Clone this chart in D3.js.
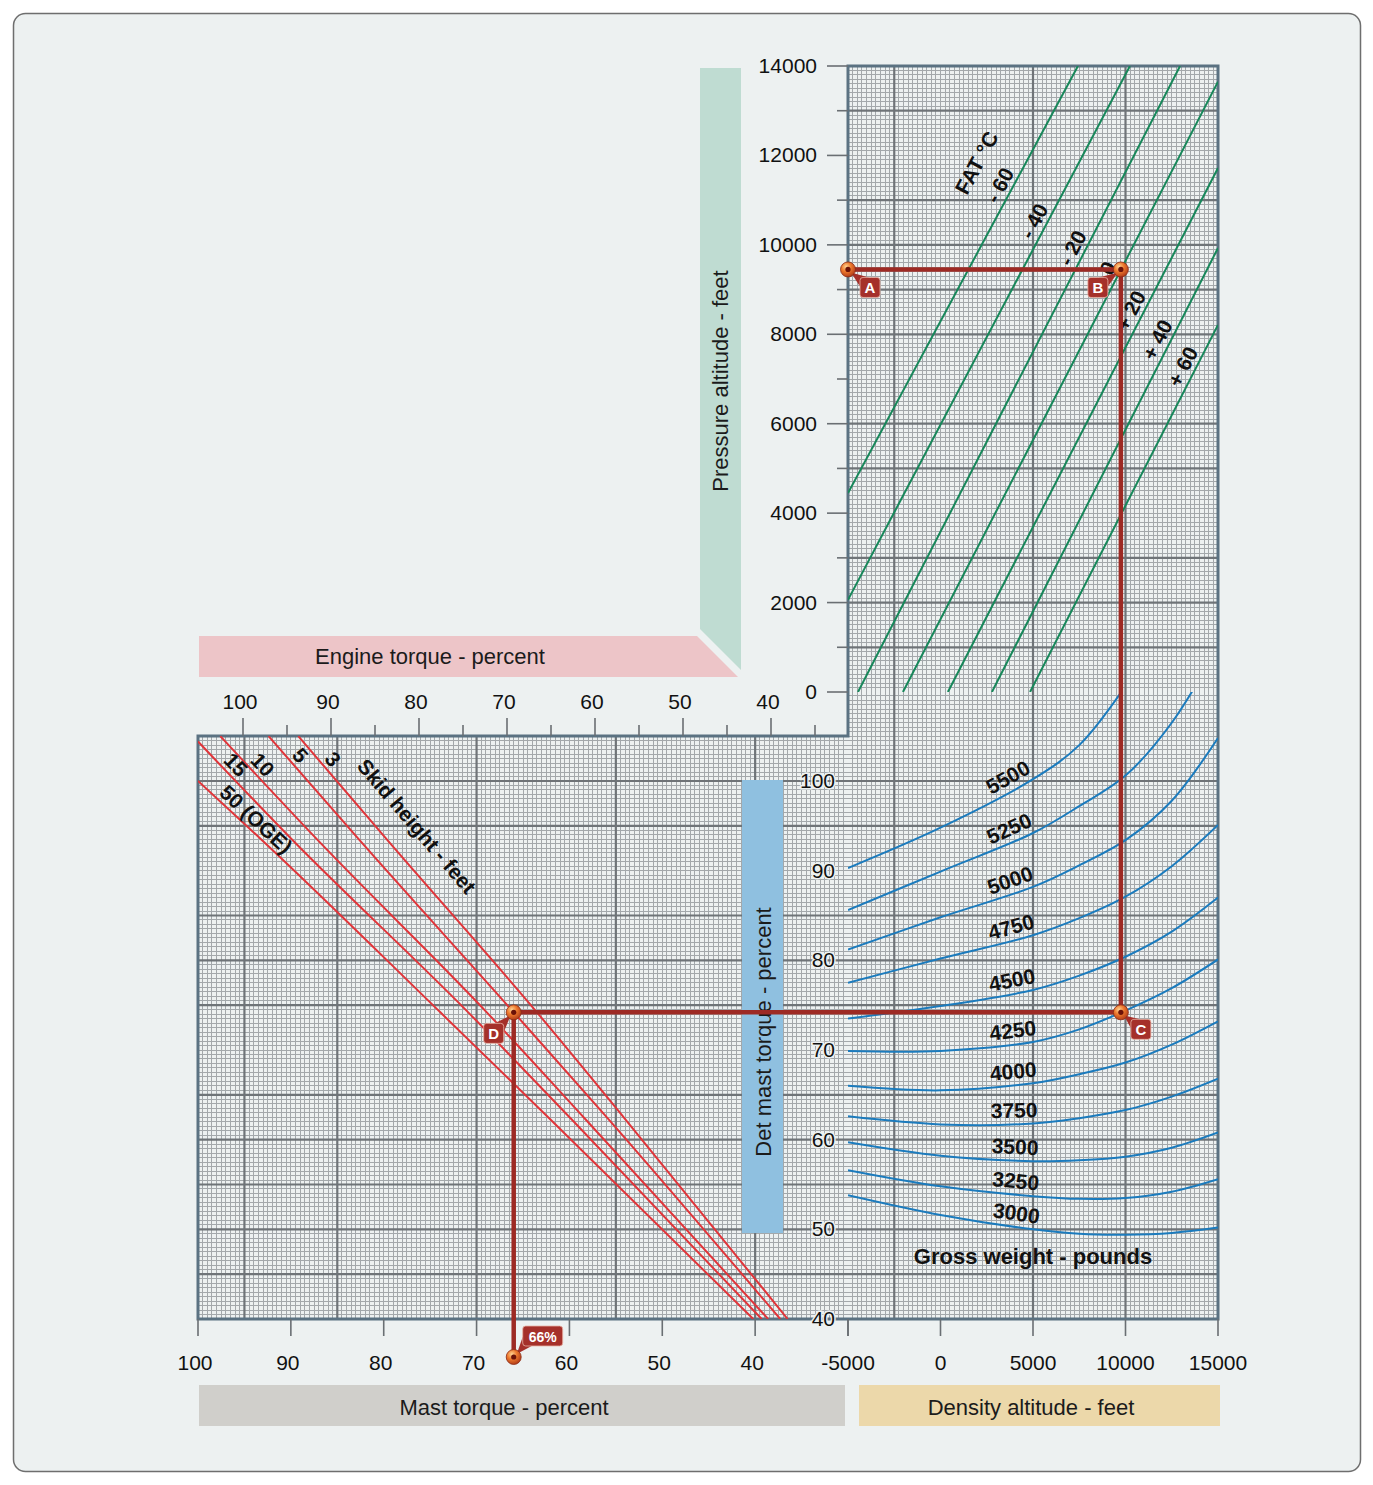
<!DOCTYPE html>
<html>
<head>
<meta charset="utf-8">
<title>Hover power required</title>
<script src="https://cdn.jsdelivr.net/npm/d3@7"></script>
<style>
    body { margin: 0; background: #ffffff; }
    text { font-family: "Liberation Sans", Arial, Helvetica, sans-serif; }
    .tick-label { font-size: 21px; fill: #111; }
    .band-label { font-size: 22px; fill: #1b1b1b; }
    .bold-label { font-size: 21px; font-weight: bold; fill: #111; }
</style>
</head>
<body>
<div id="chart"></div>
<script>
// ---- axis ticks ----
const pressureTicks = [0, 2000, 4000, 6000, 8000, 10000, 12000, 14000];
const pressureMinor = [1000, 3000, 5000, 7000, 9000, 11000, 13000];
const engineTicks = [100, 90, 80, 70, 60, 50, 40];
const engineMinor = [95, 85, 75, 65, 55, 45, 35];
const mastTicks = [100, 90, 80, 70, 60, 50, 40];
const detMastTicks = [100, 90, 80, 70, 60, 50, 40];
const densityTicks = [-5000, 0, 5000, 10000, 15000];

// heavier grid lines (they are not evenly spread on the original sheet)
const mastMajor = [95, 85, 70, 55, 40];
const densityMajor = [-2500, 5000, 10000];
const detMastMajor = [100, 95, 85, 80, 75, 65, 60, 55, 50, 45];
const pressureMajor = [13000, 11000, 10000, 9000, 8000, 6000, 5000, 3000, 2000, 1000];

// ---- FAT lines, ends given as [density altitude, pressure altitude] ----
const fatTemps = [-60, -40, -20, 0, 20, 40, 60];
const fatLowEnd = [[-5000, 4450], [-5000, 2060], [-4460, 0], [-2030, 0], [400, 0], [2780, 0], [4840, 0]];
const fatHighEnd = [[7430, 14000], [10240, 14000], [12950, 14000], [15000, 13650], [15000, 11720], [15000, 9930], [15000, 8210]];
const fatLabelAlt = [11300, 10500, 9900, 9450, 8500, 7850, 7250];

// ---- gross weight curves: det mast torque read at each density altitude ----
const grossWeights = [5500, 5250, 5000, 4750, 4500, 4250, 4000, 3750, 3500, 3250, 3000];
const gwDensity = [-5000, 0, 5000, 7500, 10000, 12500, 15000];
const gwTorque = [
    [90.3, 94.8, 100.2, 104.0, 110.6, null, null],
    [85.6, 89.9, 94.2, 97.2, 100.6, 106.5, 115.0],
    [81.2, 84.8, 88.2, 90.6, 93.4, 97.8, 104.8],
    [77.5, 80.2, 82.8, 84.7, 87.1, 90.5, 95.1],
    [73.5, 74.9, 76.7, 78.3, 80.4, 83.2, 87.0],
    [69.9, 69.9, 70.9, 72.3, 74.4, 76.9, 80.1],
    [66.0, 65.5, 66.3, 67.3, 68.6, 70.6, 73.2],
    [62.6, 61.7, 61.8, 62.4, 63.3, 64.8, 66.8],
    [59.7, 58.2, 57.6, 57.7, 58.1, 59.1, 60.8],
    [56.6, 54.8, 53.7, 53.4, 53.5, 54.2, 55.6],
    [53.8, 51.6, 50.0, 49.5, 49.4, 49.6, 50.2]
];
const gwLabelDensity = 4000;

// ---- skid height lines: [mast torque, det mast torque], top to bottom ----
const skidHeights = ["3", "5", "10", "15", "50 (OGE)"];
const skidLines = [
    [[89.2, 105], [79.6, 93.4], [63.5, 74.2], [54.0, 62.3], [36.5, 40]],
    [[92.4, 105], [82.6, 93.4], [66.0, 74.2], [55.8, 62.3], [37.3, 40]],
    [[97.6, 105], [87.1, 93.4], [68.9, 74.2], [58.3, 62.3], [38.6, 40]],
    [[100, 104.4], [89.8, 93.4], [70.9, 74.2], [59.8, 62.3], [39.3, 40]],
    [[100, 100.0], [93.1, 93.4], [73.9, 74.2], [62.1, 62.3], [40.2, 40]]
];
const skidLabelTorque = [102.3, 102.7, 101.6, 101.6, 95.4];

// ---- worked example ----
const examplePressureAlt = 9450;
const exampleDensityAlt = 9750;
const exampleDetTorque = 74.2;
const exampleMastTorque = 66;


class HoverChart {
    constructor(_parentElement) {
        this.parentElement = _parentElement;
        this.initVis();
    }

    initVis() {
        let vis = this;

        vis.width = 1373;
        vis.height = 1485;

        // corners of the L shaped grid
        vis.left = 198;
        vis.mid = 848;
        vis.right = 1218;
        vis.top = 66;
        vis.step = 736;
        vis.bottom = 1319;

        vis.svg = d3.select("#" + vis.parentElement).append("svg")
            .attr("width", vis.width)
            .attr("height", vis.height);

        // scales
        vis.mast = d3.scaleLinear().domain([100, 30]).range([vis.left, vis.mid]);
        vis.engine = d3.scaleLinear().domain([100, 40]).range([243, 771]);
        vis.density = d3.scaleLinear().domain([-5000, 15000]).range([vis.mid, vis.right]);
        vis.pressure = d3.scaleLinear().domain([0, 14000]).range([692, vis.top]);
        vis.det = d3.scaleLinear().domain([40, 100]).range([vis.bottom, 781]);

        let defs = vis.svg.append("defs");
        let grad = defs.append("radialGradient").attr("id", "ball")
            .attr("cx", "38%").attr("cy", "32%").attr("r", "70%");
        grad.append("stop").attr("offset", "0%").attr("stop-color", "#ffd494");
        grad.append("stop").attr("offset", "45%").attr("stop-color", "#ee7a2e");
        grad.append("stop").attr("offset", "100%").attr("stop-color", "#b23c18");

        defs.append("clipPath").attr("id", "clip-upper").append("rect")
            .attr("x", vis.mid).attr("y", vis.top)
            .attr("width", vis.right - vis.mid).attr("height", vis.pressure(0) - vis.top);
        defs.append("clipPath").attr("id", "clip-weight").append("rect")
            .attr("x", vis.mid).attr("y", vis.pressure(0))
            .attr("width", vis.right - vis.mid).attr("height", vis.bottom - vis.pressure(0));
        defs.append("clipPath").attr("id", "clip-lower").append("rect")
            .attr("x", vis.left).attr("y", vis.step)
            .attr("width", vis.right - vis.left).attr("height", vis.bottom - vis.step);

        // frame
        vis.svg.append("rect")
            .attr("x", 13.5).attr("y", 13.5)
            .attr("width", 1347).attr("height", 1458)
            .attr("rx", 12)
            .attr("fill", "#edf1f1")
            .attr("stroke", "#6e6e6e")
            .attr("stroke-width", 1.5);

        vis.drawBands();
        vis.drawGrid();
        vis.drawAxes();
        vis.drawCurves();
        vis.drawExample();
    }

    drawBands() {
        let vis = this;

        vis.svg.append("polygon")
            .attr("points", "700,68 741,68 741,670 700,629")
            .attr("fill", "#bfdcd2");
        vis.svg.append("polygon")
            .attr("points", "199,636 697,636 738,677 199,677")
            .attr("fill", "#edc5c8");
        vis.svg.append("rect")
            .attr("x", 199).attr("y", 1385).attr("width", 646).attr("height", 41)
            .attr("fill", "#d0cfcb");
        vis.svg.append("rect")
            .attr("x", 859).attr("y", 1385).attr("width", 361).attr("height", 41)
            .attr("fill", "#ecd8aa");

        vis.svg.append("text").attr("class", "band-label")
            .attr("x", 430).attr("y", 664).attr("text-anchor", "middle")
            .text("Engine torque - percent");
        vis.svg.append("text").attr("class", "band-label")
            .attr("transform", "translate(728,381) rotate(-90)").attr("text-anchor", "middle")
            .text("Pressure altitude - feet");
        vis.svg.append("text").attr("class", "band-label")
            .attr("x", 504).attr("y", 1415).attr("text-anchor", "middle")
            .text("Mast torque - percent");
        vis.svg.append("text").attr("class", "band-label")
            .attr("x", 1031).attr("y", 1415).attr("text-anchor", "middle")
            .text("Density altitude - feet");
    }

    drawGrid() {
        let vis = this;

        let grid = vis.svg.append("g").attr("class", "grid");
        let fine = grid.append("g")
            .attr("stroke", "#a3a8ab")
            .attr("stroke-width", 1)
            .attr("shape-rendering", "crispEdges");

        // verticals under the mast torque axis
        fine.selectAll(".mv").data(d3.range(99.5, 30, -0.5)).join("line")
            .attr("class", "mv")
            .attr("x1", d => vis.mast(d)).attr("x2", d => vis.mast(d))
            .attr("y1", vis.step).attr("y2", vis.bottom);
        // verticals under the density altitude axis, full height
        fine.selectAll(".dv").data(d3.range(-4750, 15000, 250)).join("line")
            .attr("class", "dv")
            .attr("x1", d => vis.density(d)).attr("x2", d => vis.density(d))
            .attr("y1", vis.top).attr("y2", vis.bottom);
        // horizontals on the det mast torque scale
        fine.selectAll(".th").data(d3.range(40.5, 110, 0.5)).join("line")
            .attr("class", "th")
            .attr("x1", d => d <= 105 ? vis.left : vis.mid).attr("x2", vis.right)
            .attr("y1", d => vis.det(d)).attr("y2", d => vis.det(d));
        // horizontals on the pressure altitude scale
        fine.selectAll(".ph").data(d3.range(100, 14000, 100)).join("line")
            .attr("class", "ph")
            .attr("x1", vis.mid).attr("x2", vis.right)
            .attr("y1", d => vis.pressure(d)).attr("y2", d => vis.pressure(d));

        let major = grid.append("g")
            .attr("stroke", "#6f7478")
            .attr("stroke-width", 2.2);

        major.selectAll(".mmv").data(mastMajor).join("line")
            .attr("x1", d => vis.mast(d)).attr("x2", d => vis.mast(d))
            .attr("y1", vis.step).attr("y2", vis.bottom);
        major.selectAll(".mdv").data(densityMajor).join("line")
            .attr("x1", d => vis.density(d)).attr("x2", d => vis.density(d))
            .attr("y1", vis.top).attr("y2", vis.bottom);
        major.selectAll(".mth").data(detMastMajor).join("line")
            .attr("x1", vis.left).attr("x2", vis.right)
            .attr("y1", d => vis.det(d)).attr("y2", d => vis.det(d));
        major.selectAll(".mph").data(pressureMajor).join("line")
            .attr("x1", vis.mid).attr("x2", vis.right)
            .attr("y1", d => vis.pressure(d)).attr("y2", d => vis.pressure(d));

        // det mast torque band sits on top of the grid
        vis.svg.append("rect")
            .attr("x", 742).attr("y", 780).attr("width", 41).attr("height", 453)
            .attr("fill", "#8fc0e0");
        vis.svg.append("text").attr("class", "band-label")
            .attr("transform", "translate(771,1032) rotate(-90)").attr("text-anchor", "middle")
            .text("Det mast torque - percent");

        // L shaped outline
        vis.svg.append("path")
            .attr("d", `M${vis.left},${vis.step} H${vis.mid} V${vis.top} H${vis.right} V${vis.bottom} H${vis.left} Z`)
            .attr("fill", "none")
            .attr("stroke", "#5b7282")
            .attr("stroke-width", 3);
    }

    drawAxes() {
        let vis = this;
        let axes = vis.svg.append("g").attr("class", "axes");
        let tickColor = "#6a6f73";

        // pressure altitude (left of upper grid)
        axes.selectAll(".pt").data(pressureTicks).join("line")
            .attr("x1", vis.mid - 21).attr("x2", vis.mid)
            .attr("y1", d => vis.pressure(d)).attr("y2", d => vis.pressure(d))
            .attr("stroke", tickColor).attr("stroke-width", 1.6);
        axes.selectAll(".pm").data(pressureMinor).join("line")
            .attr("x1", vis.mid - 11).attr("x2", vis.mid)
            .attr("y1", d => vis.pressure(d)).attr("y2", d => vis.pressure(d))
            .attr("stroke", tickColor).attr("stroke-width", 1.6);
        axes.selectAll(".pl").data(pressureTicks).join("text")
            .attr("class", "tick-label")
            .attr("x", 817).attr("y", d => vis.pressure(d) + 7)
            .attr("text-anchor", "end")
            .text(d => d);

        // engine torque (above lower grid)
        axes.selectAll(".et").data(engineTicks).join("line")
            .attr("x1", d => vis.engine(d)).attr("x2", d => vis.engine(d))
            .attr("y1", vis.step - 18).attr("y2", vis.step)
            .attr("stroke", tickColor).attr("stroke-width", 1.6);
        axes.selectAll(".em").data(engineMinor).join("line")
            .attr("x1", d => vis.engine(d)).attr("x2", d => vis.engine(d))
            .attr("y1", vis.step - 11).attr("y2", vis.step)
            .attr("stroke", tickColor).attr("stroke-width", 1.6);
        axes.selectAll(".el").data(engineTicks).join("text")
            .attr("class", "tick-label")
            .attr("x", d => vis.engine(d) - 3).attr("y", 709)
            .attr("text-anchor", "middle")
            .text(d => d);

        // mast torque (bottom left)
        axes.selectAll(".mt").data(mastTicks.concat([30])).join("line")
            .attr("x1", d => vis.mast(d)).attr("x2", d => vis.mast(d))
            .attr("y1", vis.bottom).attr("y2", vis.bottom + 17)
            .attr("stroke", tickColor).attr("stroke-width", 1.6);
        axes.selectAll(".ml").data(mastTicks).join("text")
            .attr("class", "tick-label")
            .attr("x", d => vis.mast(d) - 3).attr("y", 1370)
            .attr("text-anchor", "middle")
            .text(d => d);

        // density altitude (bottom right)
        axes.selectAll(".dt").data(densityTicks).join("line")
            .attr("x1", d => vis.density(d)).attr("x2", d => vis.density(d))
            .attr("y1", vis.bottom).attr("y2", vis.bottom + 17)
            .attr("stroke", tickColor).attr("stroke-width", 1.6);
        axes.selectAll(".dl").data(densityTicks).join("text")
            .attr("class", "tick-label")
            .attr("x", d => vis.density(d)).attr("y", 1370)
            .attr("text-anchor", "middle")
            .text(d => d);

        // det mast torque labels sit inside the grid
        axes.selectAll(".tl").data(detMastTicks).join("text")
            .attr("class", "tick-label")
            .attr("x", 835).attr("y", d => vis.det(d) + 7)
            .attr("text-anchor", "end")
            .attr("stroke", "#edf1f1").attr("stroke-width", 3)
            .attr("paint-order", "stroke")
            .text(d => d);
    }

    drawCurves() {
        let vis = this;

        // FAT lines
        let fat = vis.svg.append("g").attr("clip-path", "url(#clip-upper)");
        fat.selectAll("line").data(fatTemps).join("line")
            .attr("x1", (d, i) => vis.density(fatLowEnd[i][0]))
            .attr("y1", (d, i) => vis.pressure(fatLowEnd[i][1]))
            .attr("x2", (d, i) => vis.density(fatHighEnd[i][0]))
            .attr("y2", (d, i) => vis.pressure(fatHighEnd[i][1]))
            .attr("stroke", "#17875a")
            .attr("stroke-width", 2);

        // point on a FAT line at a given pressure altitude
        let fatPoint = (i, alt) => {
            let t = (alt - fatLowEnd[i][1]) / (fatHighEnd[i][1] - fatLowEnd[i][1]);
            let da = fatLowEnd[i][0] + t * (fatHighEnd[i][0] - fatLowEnd[i][0]);
            return [vis.density(da), vis.pressure(alt)];
        };
        let fatAngle = i => {
            let dx = vis.density(fatHighEnd[i][0]) - vis.density(fatLowEnd[i][0]);
            let dy = vis.pressure(fatHighEnd[i][1]) - vis.pressure(fatLowEnd[i][1]);
            return Math.atan2(dy, dx) * 180 / Math.PI;
        };
        let fmtTemp = t => t < 0 ? "- " + (-t) : (t > 0 ? "+ " + t : "0");

        let fatLabels = vis.svg.append("g");
        fatTemps.forEach((t, i) => {
            let p = fatPoint(i, fatLabelAlt[i]);
            fatLabels.append("text")
                .attr("class", "bold-label")
                .attr("transform", `translate(${p[0]},${p[1]}) rotate(${fatAngle(i)})`)
                .attr("x", -5).attr("y", -5)
                .attr("text-anchor", "middle")
                .text(fmtTemp(t));
        });
        let fp = fatPoint(0, 11830);
        fatLabels.append("text")
            .attr("class", "bold-label")
            .attr("transform", `translate(${fp[0]},${fp[1]}) rotate(${fatAngle(0)})`)
            .attr("x", -23).attr("y", -36)
            .attr("text-anchor", "middle")
            .text("FAT °C");

        // gross weight curves
        let gwLine = d3.line()
            .x(d => vis.density(d[0]))
            .y(d => vis.det(d[1]))
            .curve(d3.curveCatmullRom.alpha(0.5));

        let weights = vis.svg.append("g").attr("clip-path", "url(#clip-weight)");
        weights.selectAll("path").data(gwTorque).join("path")
            .attr("d", row => gwLine(row.map((v, j) => [gwDensity[j], v]).filter(d => d[1] !== null)))
            .attr("fill", "none")
            .attr("stroke", "#1b7bbd")
            .attr("stroke-width", 2);

        // interpolate a curve's torque at a density altitude
        let gwAt = (row, da) => {
            let j = d3.bisectRight(gwDensity, da) - 1;
            let t = (da - gwDensity[j]) / (gwDensity[j + 1] - gwDensity[j]);
            return row[j] + t * (row[j + 1] - row[j]);
        };

        let gwLabels = vis.svg.append("g");
        grossWeights.forEach((w, i) => {
            let row = gwTorque[i];
            let x = vis.density(gwLabelDensity);
            let y = vis.det(gwAt(row, gwLabelDensity));
            let xa = vis.density(gwLabelDensity - 1500), xb = vis.density(gwLabelDensity + 1500);
            let ya = vis.det(gwAt(row, gwLabelDensity - 1500)), yb = vis.det(gwAt(row, gwLabelDensity + 1500));
            let ang = Math.atan2(yb - ya, xb - xa) * 180 / Math.PI;
            gwLabels.append("text")
                .attr("class", "bold-label")
                .attr("transform", `translate(${x},${y}) rotate(${ang})`)
                .attr("x", 0).attr("y", -6)
                .attr("text-anchor", "middle")
                .text(w);
        });

        vis.svg.append("text")
            .attr("class", "bold-label")
            .style("font-size", "22px")
            .attr("x", 1033).attr("y", 1264)
            .attr("text-anchor", "middle")
            .text("Gross weight - pounds");

        // skid height lines
        let skidLine = d3.line()
            .x(d => vis.mast(d[0]))
            .y(d => vis.det(d[1]))
            .curve(d3.curveMonotoneY);

        let skid = vis.svg.append("g").attr("clip-path", "url(#clip-lower)");
        skid.selectAll("path").data(skidLines).join("path")
            .attr("d", skidLine)
            .attr("fill", "none")
            .attr("stroke", "#e0353a")
            .attr("stroke-width", 2);

        // x on a skid line at a given det mast torque
        let skidAt = (pts, v) => {
            for (let j = 0; j < pts.length - 1; j++) {
                if (v <= pts[j][1] && v >= pts[j + 1][1]) {
                    let t = (v - pts[j][1]) / (pts[j + 1][1] - pts[j][1]);
                    return pts[j][0] + t * (pts[j + 1][0] - pts[j][0]);
                }
            }
            return pts[0][0];
        };
        let skidAngle = pts => {
            let dx = vis.mast(pts[1][0]) - vis.mast(pts[0][0]);
            let dy = vis.det(pts[1][1]) - vis.det(pts[0][1]);
            return Math.atan2(dy, dx) * 180 / Math.PI;
        };

        let skidLabels = vis.svg.append("g");
        skidHeights.forEach((h, i) => {
            let pts = skidLines[i];
            let v = skidLabelTorque[i];
            let x = vis.mast(skidAt(pts, v)), y = vis.det(v);
            skidLabels.append("text")
                .attr("class", "bold-label")
                .attr("transform", `translate(${x},${y}) rotate(${skidAngle(pts)})`)
                .attr("x", 8).attr("y", -4)
                .attr("text-anchor", "middle")
                .text(h);
        });
        let sv = 94.8;
        let sx = vis.mast(skidAt(skidLines[0], sv)), sy = vis.det(sv);
        skidLabels.append("text")
            .attr("class", "bold-label")
            .attr("transform", `translate(${sx},${sy}) rotate(${skidAngle(skidLines[0])})`)
            .attr("x", 25).attr("y", -24)
            .attr("text-anchor", "middle")
            .text("Skid height - feet");
    }

    drawExample() {
        let vis = this;

        let A = [vis.density(-5000), vis.pressure(examplePressureAlt)];
        let B = [vis.density(exampleDensityAlt), A[1]];
        let C = [B[0], vis.det(exampleDetTorque)];
        let D = [vis.mast(exampleMastTorque), C[1]];
        let E = [D[0], vis.bottom + 38];

        vis.svg.append("path")
            .attr("d", d3.line()([A, B, C, D, E]))
            .attr("fill", "none")
            .attr("stroke", "#9d2a24")
            .attr("stroke-width", 4.5)
            .attr("stroke-linejoin", "miter");

        vis.calloutGroup = vis.svg.append("g");
        vis.drawCallout(A, 22, 18, "A", 20);
        vis.drawCallout(B, -23, 18, "B", 20);
        vis.drawCallout(C, 20, 17, "C", 20);
        vis.drawCallout(D, -20, 21, "D", 20);
        vis.drawCallout(E, 29, -21, exampleMastTorque + "%", 40);

        let markers = vis.svg.append("g");
        [A, B, C, D, E].forEach(p => {
            markers.append("circle")
                .attr("cx", p[0]).attr("cy", p[1]).attr("r", 7.5)
                .attr("fill", "url(#ball)")
                .attr("stroke", "#8a2a14").attr("stroke-width", 0.8);
            markers.append("circle")
                .attr("cx", p[0]).attr("cy", p[1]).attr("r", 2.6)
                .attr("fill", "#6b1208");
        });
    }

    drawCallout(p, dx, dy, label, w) {
        let vis = this;
        let h = 20;
        let cx = p[0] + dx, cy = p[1] + dy;
        let sx = Math.sign(dx), sy = Math.sign(dy);
        let corner = [cx - sx * w / 2, cy - sy * h / 2];
        let g = vis.calloutGroup.append("g");

        g.append("path")
            .attr("d", `M${p[0] + sx * 3},${p[1] + sy * 3} L${corner[0] + sx * 9},${corner[1]} L${corner[0]},${corner[1] + sy * 9} Z`)
            .attr("fill", "#a5302a");
        g.append("rect")
            .attr("x", cx - w / 2).attr("y", cy - h / 2)
            .attr("width", w).attr("height", h)
            .attr("rx", 3)
            .attr("fill", "#a5302a")
            .attr("stroke", "#e8b4a6").attr("stroke-width", 0.8);
        g.append("text")
            .attr("x", cx).attr("y", cy + 5.5)
            .attr("text-anchor", "middle")
            .attr("fill", "#ffffff")
            .attr("font-weight", "bold")
            .attr("font-size", label.length > 1 ? "14px" : "15px")
            .text(label);
    }
}

new HoverChart("chart");
</script>
</body>
</html>
